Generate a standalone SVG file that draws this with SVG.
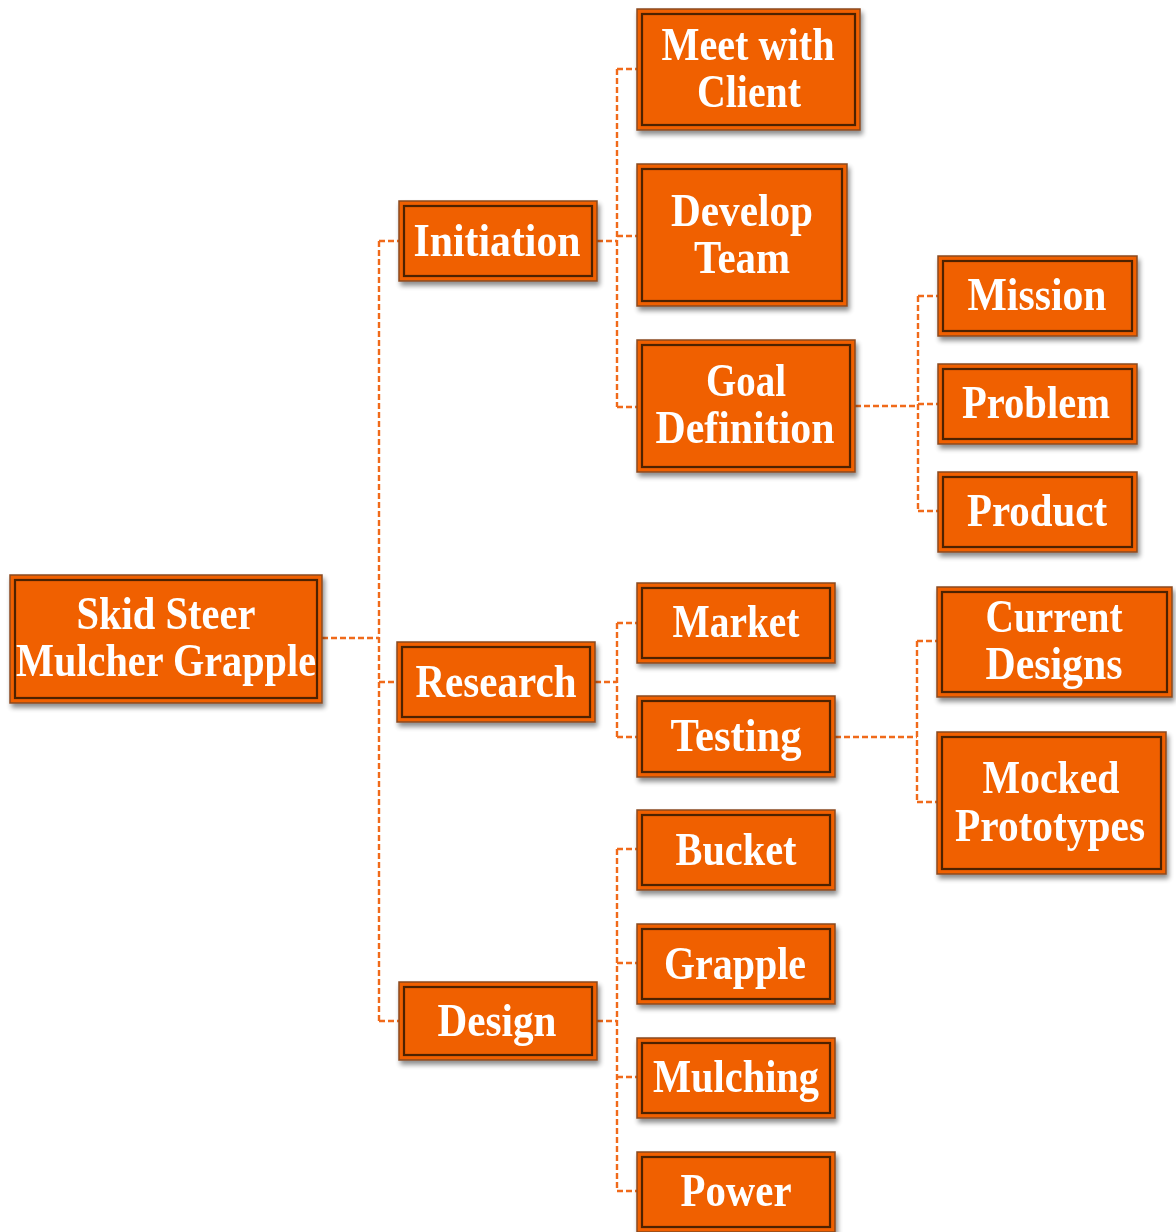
<svg xmlns="http://www.w3.org/2000/svg" width="1176" height="1232" viewBox="0 0 1176 1232">
<defs>
<filter id="sh" x="-10%" y="-10%" width="125%" height="130%">
<feGaussianBlur in="SourceAlpha" stdDeviation="2.5"/>
<feOffset dx="2" dy="4" result="b"/>
<feComponentTransfer><feFuncA type="linear" slope="0.45"/></feComponentTransfer>
<feMerge><feMergeNode/><feMergeNode in="SourceGraphic"/></feMerge>
</filter>
</defs>
<style>
.box{fill:#F06000;stroke:#8A4A22;stroke-width:1.5}
.in{fill:none;stroke:#4E2000;stroke-width:2.2}
.t{font-family:"Liberation Serif",serif;font-weight:bold;font-size:46px;fill:#FFFFFF;text-anchor:middle}
.c{fill:none;stroke:#F06A1A;stroke-width:2.4;stroke-dasharray:6,3}
</style>
<rect width="1176" height="1232" fill="#FFFFFF"/>
<g id="connectors">
<path class="c" d="M322,638 H379 M379,241 V1021 M379,241 H399 M379,682 H397 M379,1021 H399"/>
<path class="c" d="M597,241 H617 M617,69 V407 M617,69 H637 M617,236 H637 M617,407 H637"/>
<path class="c" d="M595,682 H617 M617,623 V737 M617,623 H637 M617,737 H637"/>
<path class="c" d="M597,1021 H617 M617,849 V1191 M617,849 H637 M617,963 H637 M617,1077 H637 M617,1191 H637"/>
<path class="c" d="M855,406 H918 M918,296 V511 M918,296 H938 M918,404 H938 M918,511 H938"/>
<path class="c" d="M835,737 H917 M917,641 V802 M917,641 H937 M917,802 H937"/>
</g>
<g id="root" filter="url(#sh)"><rect class="box" x="10" y="575" width="312" height="128"/><rect class="in" x="15" y="580" width="302" height="118"/><text class="t" x="166" y="629" textLength="179" lengthAdjust="spacingAndGlyphs">Skid Steer</text><text class="t" x="166" y="676" textLength="300" lengthAdjust="spacingAndGlyphs">Mulcher Grapple</text></g>
<g id="initiation" filter="url(#sh)"><rect class="box" x="399" y="201" width="198" height="80"/><rect class="in" x="404" y="206" width="188" height="70"/><text class="t" x="497" y="256" textLength="167" lengthAdjust="spacingAndGlyphs">Initiation</text></g>
<g id="research" filter="url(#sh)"><rect class="box" x="397" y="642" width="198" height="80"/><rect class="in" x="402" y="647" width="188" height="70"/><text class="t" x="496" y="697" textLength="161" lengthAdjust="spacingAndGlyphs">Research</text></g>
<g id="design" filter="url(#sh)"><rect class="box" x="399" y="982" width="198" height="78"/><rect class="in" x="404" y="987" width="188" height="68"/><text class="t" x="497" y="1036" textLength="119" lengthAdjust="spacingAndGlyphs">Design</text></g>
<g id="meet" filter="url(#sh)"><rect class="box" x="637" y="9" width="223" height="121"/><rect class="in" x="642" y="14" width="213" height="111"/><text class="t" x="748" y="60" textLength="173" lengthAdjust="spacingAndGlyphs">Meet with</text><text class="t" x="749" y="107" textLength="104" lengthAdjust="spacingAndGlyphs">Client</text></g>
<g id="team" filter="url(#sh)"><rect class="box" x="637" y="164" width="210" height="142"/><rect class="in" x="642" y="169" width="200" height="132"/><text class="t" x="742" y="226" textLength="142" lengthAdjust="spacingAndGlyphs">Develop</text><text class="t" x="742" y="273" textLength="96" lengthAdjust="spacingAndGlyphs">Team</text></g>
<g id="goal" filter="url(#sh)"><rect class="box" x="637" y="340" width="218" height="132"/><rect class="in" x="642" y="345" width="208" height="122"/><text class="t" x="746" y="396" textLength="80" lengthAdjust="spacingAndGlyphs">Goal</text><text class="t" x="745" y="443" textLength="179" lengthAdjust="spacingAndGlyphs">Definition</text></g>
<g id="mission" filter="url(#sh)"><rect class="box" x="938" y="256" width="199" height="80"/><rect class="in" x="943" y="261" width="189" height="70"/><text class="t" x="1037" y="310" textLength="139" lengthAdjust="spacingAndGlyphs">Mission</text></g>
<g id="problem" filter="url(#sh)"><rect class="box" x="938" y="364" width="199" height="80"/><rect class="in" x="943" y="369" width="189" height="70"/><text class="t" x="1036" y="418" textLength="148" lengthAdjust="spacingAndGlyphs">Problem</text></g>
<g id="product" filter="url(#sh)"><rect class="box" x="938" y="472" width="199" height="80"/><rect class="in" x="943" y="477" width="189" height="70"/><text class="t" x="1037" y="526" textLength="140" lengthAdjust="spacingAndGlyphs">Product</text></g>
<g id="market" filter="url(#sh)"><rect class="box" x="637" y="583" width="198" height="80"/><rect class="in" x="642" y="588" width="188" height="70"/><text class="t" x="736" y="637" textLength="127" lengthAdjust="spacingAndGlyphs">Market</text></g>
<g id="testing" filter="url(#sh)"><rect class="box" x="637" y="696" width="198" height="81"/><rect class="in" x="642" y="701" width="188" height="71"/><text class="t" x="736" y="751" textLength="131" lengthAdjust="spacingAndGlyphs">Testing</text></g>
<g id="bucket" filter="url(#sh)"><rect class="box" x="637" y="810" width="198" height="80"/><rect class="in" x="642" y="815" width="188" height="70"/><text class="t" x="736" y="865" textLength="121" lengthAdjust="spacingAndGlyphs">Bucket</text></g>
<g id="grapple" filter="url(#sh)"><rect class="box" x="637" y="924" width="198" height="80"/><rect class="in" x="642" y="929" width="188" height="70"/><text class="t" x="735" y="979" textLength="142" lengthAdjust="spacingAndGlyphs">Grapple</text></g>
<g id="mulching" filter="url(#sh)"><rect class="box" x="637" y="1038" width="198" height="80"/><rect class="in" x="642" y="1043" width="188" height="70"/><text class="t" x="736" y="1092" textLength="166" lengthAdjust="spacingAndGlyphs">Mulching</text></g>
<g id="power" filter="url(#sh)"><rect class="box" x="637" y="1152" width="198" height="80"/><rect class="in" x="642" y="1157" width="188" height="70"/><text class="t" x="736" y="1206" textLength="111" lengthAdjust="spacingAndGlyphs">Power</text></g>
<g id="current" filter="url(#sh)"><rect class="box" x="937" y="587" width="235" height="110"/><rect class="in" x="942" y="592" width="225" height="100"/><text class="t" x="1054" y="632" textLength="137" lengthAdjust="spacingAndGlyphs">Current</text><text class="t" x="1054" y="679" textLength="137" lengthAdjust="spacingAndGlyphs">Designs</text></g>
<g id="mocked" filter="url(#sh)"><rect class="box" x="937" y="732" width="229" height="142"/><rect class="in" x="942" y="737" width="219" height="132"/><text class="t" x="1051" y="793" textLength="137" lengthAdjust="spacingAndGlyphs">Mocked</text><text class="t" x="1050" y="841" textLength="190" lengthAdjust="spacingAndGlyphs">Prototypes</text></g>
</svg>
